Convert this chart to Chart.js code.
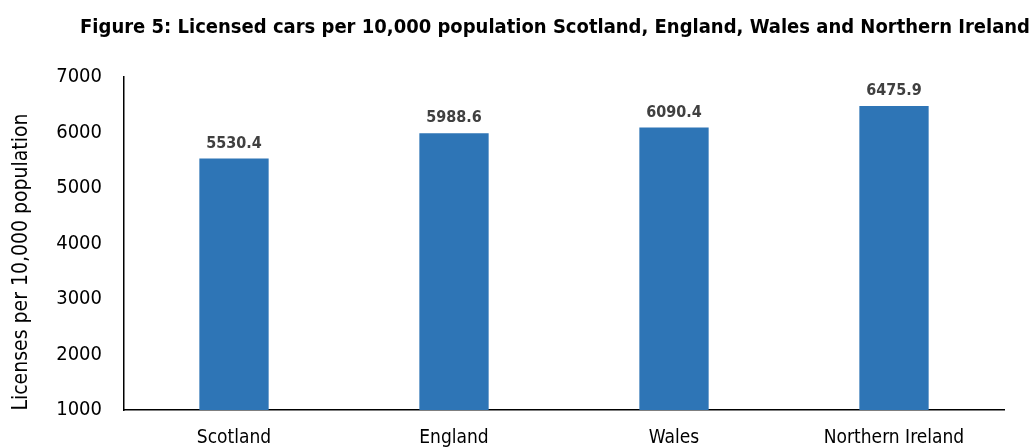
<!DOCTYPE html>
<html>
<head>
<meta charset="utf-8">
<script src="https://cdn.jsdelivr.net/npm/chart.js@4"></script>
<style>
  html, body { margin: 0; padding: 0; background: #fff; }
  #wrap { width: 1034px; height: 447px; }
</style>
</head>
<body>
<div id="wrap"><canvas id="myChart" width="1034" height="447"></canvas></div>
<script>
const countries = ['Scotland', 'England', 'Wales', 'Northern Ireland'];
const carsPer10k = [5530.4, 5988.6, 6090.4, 6475.9];
const yTicks = [1000, 2000, 3000, 4000, 5000, 6000, 7000];
const chartTitle = 'Figure 5: Licensed cars per 10,000 population Scotland, England, Wales and Northern Ireland';
const yTitle = 'Licenses per 10,000 population';

const narrow = '"Liberation Sans Narrow", "Arial Narrow", "DejaVu Sans Condensed", sans-serif';

// value labels above bars, plus the title and the y axis title
const extras = {
  id: 'extras',
  afterDatasetsDraw(chart) {
    const ctx = chart.ctx;
    const meta = chart.getDatasetMeta(0);
    ctx.save();
    ctx.font = 'bold 16px ' + narrow;
    ctx.fillStyle = '#404040';
    ctx.textAlign = 'center';
    ctx.textBaseline = 'bottom';
    meta.data.forEach((bar, i) => {
      ctx.fillText(carsPer10k[i].toFixed(1), bar.x, bar.y - 7);
    });

    ctx.fillStyle = '#000';
    ctx.font = 'bold 20px ' + narrow;
    ctx.textAlign = 'right';
    ctx.textBaseline = 'middle';
    ctx.fillText(chartTitle, 1030, 28);

    ctx.translate(22, 262);
    ctx.rotate(-Math.PI / 2);
    ctx.textAlign = 'center';
    ctx.font = '21px ' + narrow;
    ctx.fillText(yTitle, 0, 0);
    ctx.restore();
  }
};

const ctx = document.getElementById('myChart').getContext('2d');
new Chart(ctx, {
  type: 'bar',
  data: {
    labels: countries,
    datasets: [{
      data: carsPer10k,
      backgroundColor: '#2E75B6',
      borderWidth: 0,
      categoryPercentage: 1,
      barPercentage: 0.315
    }]
  },
  options: {
    responsive: false,
    animation: false,
    layout: { padding: { left: 0, right: 30, top: 77, bottom: 0 } },
    plugins: {
      legend: { display: false },
      tooltip: { enabled: false }
    },
    scales: {
      x: {
        grid: { display: false, drawTicks: false },
        border: { color: '#000', width: 1.5 },
        ticks: { color: '#000', padding: 17, font: { family: narrow, size: 19 } },
        afterFit(scale) { scale.height = 37; }
      },
      y: {
        min: 1000,
        max: 7000,
        afterBuildTicks(scale) { scale.ticks = yTicks.map(v => ({ value: v })); },
        grid: { display: false, drawTicks: false },
        border: { color: '#000', width: 1.5 },
        ticks: {
          color: '#000',
          padding: 22,
          font: { family: narrow, size: 20 },
          callback: v => String(v)
        },
        afterFit(scale) { scale.width = 124; }
      }
    }
  },
  plugins: [extras]
});
</script>
</body>
</html>
